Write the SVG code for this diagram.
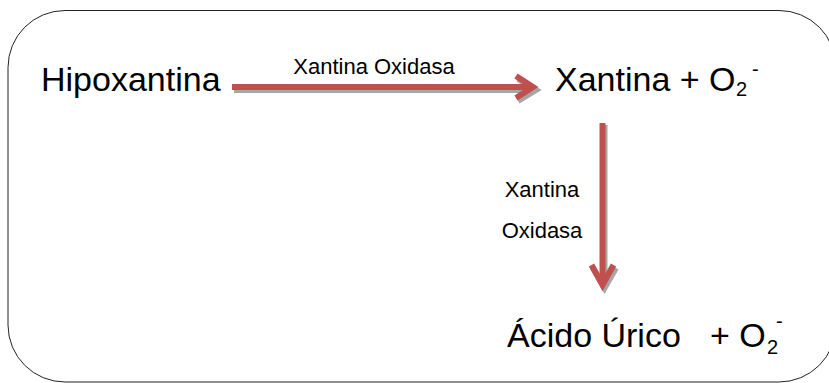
<svg xmlns="http://www.w3.org/2000/svg" width="829" height="383" viewBox="0 0 829 383">
  <style>
    .big { font-family: "Liberation Sans", Arial, sans-serif; font-size: 34px; fill: #000; }
    .lbl { font-family: "Liberation Sans", Arial, sans-serif; font-size: 22px; fill: #000; }
    .sub { font-size: 20px; }
    .shaft { stroke: #c0504d; stroke-width: 6; fill: none; }
    .shadow { stroke: #a6a6a6; stroke-width: 6; fill: none; }
    .head { stroke: #c0504d; stroke-width: 6; fill: none; stroke-linejoin: miter; }
    .headshadow { stroke: #a6a6a6; stroke-width: 6; fill: none; stroke-linejoin: miter; }
  </style>

  <rect id="frame" x="8" y="10.5" width="828" height="371.5" rx="57" ry="57" fill="#fff" stroke="#222" stroke-width="1"/>

  <g id="connectors">
    <!-- Hipoxantina to Xantina -->
    <g id="edge-h">
      <line class="shadow" x1="234" y1="90" x2="533" y2="90"/>
      <polyline class="headshadow" points="518,79 536,90 518,101"/>
      <line class="shaft" x1="232" y1="87" x2="531" y2="87"/>
      <polyline class="head" points="516,76 533,87 516,98"/>
    </g>
    <!-- Xantina to Acido Urico -->
    <g id="edge-v">
      <line class="shadow" x1="604.5" y1="125" x2="604.5" y2="286"/>
      <polyline class="headshadow" points="593,268 604.5,288 616,268"/>
      <line class="shaft" x1="602.5" y1="123" x2="602.5" y2="284"/>
      <polyline class="head" points="591.5,265 602.5,285 613.5,265"/>
    </g>
    <text class="lbl" x="374" y="74" text-anchor="middle">Xantina Oxidasa</text>
    <text class="lbl" x="542" y="197" text-anchor="middle">Xantina</text>
    <text class="lbl" x="542" y="238" text-anchor="middle">Oxidasa</text>
  </g>

  <g id="hipoxantina">
    <text class="big" x="41" y="91">Hipoxantina</text>
  </g>

  <g id="xantina">
    <text class="big" x="555" y="91">Xantina + O<tspan class="sub" x="736" y="96">2</tspan><tspan class="sub" x="752" y="76">-</tspan></text>
  </g>

  <g id="acido-urico">
    <text class="big" x="507" y="347">Ácido Úrico<tspan x="710">+ O</tspan><tspan class="sub" x="767" y="354">2</tspan><tspan class="sub" x="776" y="328">-</tspan></text>
  </g>
</svg>
